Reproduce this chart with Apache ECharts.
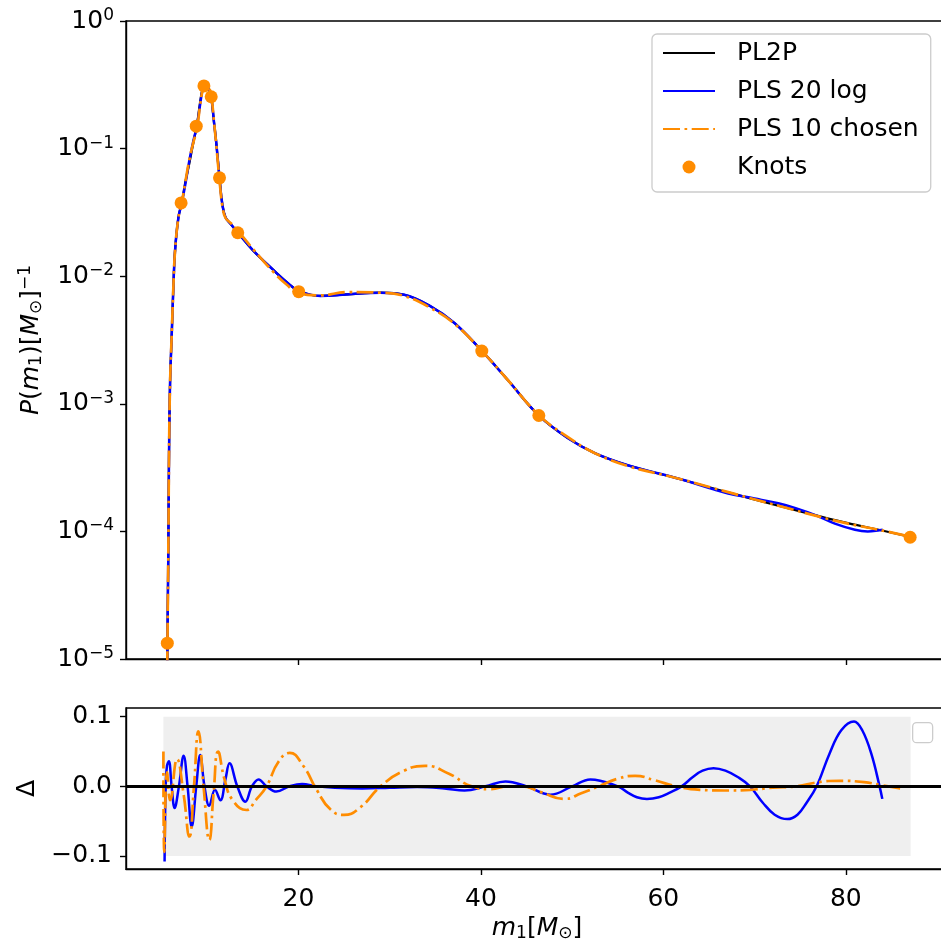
<!DOCTYPE html>
<html><head><meta charset="utf-8">
<script src="https://cdn.jsdelivr.net/npm/echarts@6/dist/echarts.min.js"></script>
<style>html,body{margin:0;padding:0;background:#fff}#c{width:941px;height:940px}</style>
</head><body><div id="c"></div>
<script>
const FONT = 'DejaVu Sans';

// ---- top panel: P(m1) ----
const pl2pMass = [5.55,5.63,5.68,5.74,5.82,5.93,6.12,6.30,6.48,6.85,7.21,7.58,8.05,8.50,8.87,9.20,9.45,9.70,9.95,10.20,10.44,10.75,11.00,11.35,11.65,12.00,12.60,13.35,15.00,17.30,18.70,20.03,22.40,25.30,29.00,31.60,34.50,37.10,40.10,42.90,46.35,49.50,52.50,56.10,61.60,67.10,72.60,78.10,81.00,83.60,87.00];
const pl2pProb = [3e-6,1.0e-5,2.6e-5,7.0e-5,4.3e-4,1.45e-3,3.6e-3,8.5e-3,0.016,0.029,0.0375,0.0535,0.077,0.113,0.153,0.225,0.285,0.318,0.31,0.28,0.25,0.16,0.11,0.059,0.037,0.029,0.0255,0.0220,0.0160,0.0111,0.0090,0.00767,0.0070,0.0072,0.00743,0.00715,0.0058,0.0043,0.0026,0.00155,8.1e-4,5.4e-4,4.1e-4,3.3e-4,2.6e-4,2.02e-4,1.59e-4,1.26e-4,1.13e-4,1.03e-4,9.1e-5];

const pls20Mass = [5.55,5.63,5.68,5.74,5.82,5.93,6.12,6.30,6.48,6.85,7.21,7.58,8.05,8.50,8.87,9.20,9.45,9.70,9.95,10.20,10.44,10.75,11.00,11.35,11.65,12.00,12.60,13.35,15.00,17.30,18.70,20.03,22.40,25.30,29.00,31.60,34.50,37.10,40.10,42.90,46.35,49.50,52.50,56.10,61.60,65.50,67.10,70.00,72.60,74.50,76.80,78.80,81.00,82.40,83.70,84.05];
const pls20Prob = [3e-6,1.0e-5,2.6e-5,7.0e-5,4.3e-4,1.45e-3,3.6e-3,8.5e-3,0.016,0.029,0.0375,0.0514,0.081,0.116,0.150,0.215,0.28,0.318,0.315,0.288,0.255,0.16,0.11,0.059,0.037,0.029,0.0255,0.0220,0.0160,0.0111,0.0090,0.00767,0.0070,0.0072,0.00743,0.00715,0.0058,0.0043,0.0026,0.00155,8.1e-4,5.4e-4,4.1e-4,3.3e-4,2.6e-4,2.14e-4,1.98e-4,1.81e-4,1.66e-4,1.52e-4,1.33e-4,1.15e-4,1.03e-4,1.0e-4,1.02e-4,1.03e-4];

const pls10Mass = [5.55,5.63,5.68,5.74,5.82,5.93,6.12,6.30,6.48,6.85,7.21,7.58,8.05,8.50,8.87,9.20,9.45,9.70,9.95,10.20,10.44,10.75,11.00,11.35,11.65,12.00,12.60,13.35,15.00,17.30,18.70,20.03,22.40,25.30,29.00,31.60,34.50,37.10,40.10,42.90,46.35,49.50,52.50,56.10,61.60,67.10,72.60,78.10,81.00,83.60,87.00];
const pls10Prob = [3e-6,1.0e-5,2.6e-5,7.0e-5,4.3e-4,1.45e-3,3.6e-3,8.5e-3,0.016,0.029,0.0375,0.0535,0.0825,0.113,0.142,0.212,0.277,0.32,0.322,0.30,0.265,0.162,0.106,0.0565,0.036,0.0287,0.026,0.0227,0.0164,0.0107,0.0086,0.00733,0.00707,0.0075,0.00743,0.0070,0.00563,0.00424,0.0026,0.00155,8.15e-4,5.5e-4,4.1e-4,3.25e-4,2.6e-4,2.03e-4,1.59e-4,1.25e-4,1.12e-4,1.03e-4,9.1e-5];

const knotMass = [5.63,7.14,8.80,9.64,10.44,11.35,13.35,20.03,40.10,46.35,87.05];
const knotProb = [1.33e-5,0.0375,0.150,0.31,0.255,0.059,0.0219,0.00756,0.00259,8.1e-4,9.0e-5];

// ---- bottom panel: Delta ----
const dBlueMass = [5.33,5.45,5.6,5.8,6.1,6.43,6.9,7.42,7.85,8.3,8.8,9.23,9.7,10.22,10.85,11.45,12.0,12.45,13.3,14.18,14.9,15.64,16.5,17.58,19.0,20.4,22.0,24.0,27.0,30.0,33.0,36.0,38.2,40.5,42.7,45.0,47.6,50.0,52.0,55.0,56.1,57.1,58.2,59.5,60.7,62.0,63.2,64.3,65.5,66.8,68.2,69.5,70.9,72.2,73.6,74.7,75.7,76.8,78.2,79.5,80.9,81.8,82.8,83.7,84.0];
const dBlueVal = [-0.108,0.0,0.03,0.036,0.0,-0.031,0.0,0.044,0.0,-0.058,0.0,0.045,0.0,-0.028,-0.005,-0.02,0.01,0.033,0.0,-0.022,0.0,0.010,0.0,-0.0075,0.0,0.0035,0.0,-0.002,-0.003,-0.002,-0.001,-0.003,-0.006,0.0,0.007,0.0,-0.012,0.0,0.010,0.0,-0.009,-0.0156,-0.018,-0.0156,-0.009,0.0,0.013,0.0225,0.026,0.0225,0.013,0.0,-0.0235,-0.0407,-0.047,-0.0407,-0.0235,0.0,0.0465,0.0805,0.093,0.0805,0.0465,0.0,-0.018];

const dOrangeMass = [5.2,5.3,5.6,5.95,6.7,7.4,8.05,8.55,9.04,9.6,10.24,10.7,11.2,11.9,12.8,14.3,15.3,16.5,17.8,19.05,20.5,22.0,23.5,25.0,26.8,29.0,31.5,33.9,36.5,39.0,41.0,43.0,44.5,46.5,49.2,51.0,52.9,55.0,56.9,59.0,61.4,64.0,66.7,69.5,72.0,74.5,77.0,79.3,82.0,83.8,85.5,86.4];
const dOrangeVal = [0.05,-0.094,0.02,-0.02,0.039,-0.01,-0.072,0.0,0.079,0.0,-0.077,-0.01,0.05,0.01,-0.02,-0.034,-0.02,0.0,0.035,0.048,0.03,-0.005,-0.033,-0.041,-0.03,0.0,0.022,0.0295,0.018,0.0,-0.004,0.0,0.0,-0.008,-0.018,-0.01,0.0,0.011,0.015,0.009,0.0,-0.005,-0.006,-0.005,-0.002,0.0,0.006,0.008,0.006,0.002,-0.002,-0.004];

const bandMass = [5.2, 87.1];
const bandDelta = [-0.1, 0.1];
const zeroLevel = 0;

// ---- ticks ----
const xTicks = [20, 40, 60, 80];
const logDecades = [1e-5, 1e-4, 1e-3, 1e-2, 1e-1, 1];
const deltaTicks = [-0.1, 0.0, 0.1];
const minorMultipliers = [2,3,4,5,6,7,8,9];
const minorLogTicks = [];
logDecades.slice(0, -1).forEach(d => minorMultipliers.forEach(k => minorLogTicks.push(+(k * d).toPrecision(3))));

const zip = (a, b) => a.map((v, i) => [v, b[i]]);

const BLACK = '#000000', BLUE = '#0000ff', ORANGE = '#ff8c00';
const axisLine = { color: '#000', width: 1.4 };
const dashDot = [17, 4.5, 2.7, 4.5];
const noSym = { color: 'rgba(0,0,0,0)', borderColor: 'rgba(0,0,0,0)', borderWidth: 0, opacity: 0 };

const richName = {
  i: { fontSize: 25, fontStyle: 'italic', fontFamily: FONT, color: '#000' },
  n: { fontSize: 25, fontFamily: FONT, color: '#000' },
  sb: { fontSize: 17, fontFamily: FONT, color: '#000', padding: [10, 0, 0, 0] },
  sp: { fontSize: 17, fontFamily: FONT, color: '#000', padding: [0, 0, 12, 0] }
};

const chart = echarts.init(document.getElementById('c'), null, { renderer: 'canvas' });
const option = {
  animation: false,
  backgroundColor: '#ffffff',
  textStyle: { fontFamily: FONT },
  grid: [
    { left: 126, top: 21, width: 822, height: 638, show: true, borderColor: '#000', borderWidth: 1.4, outerBoundsMode: 'none', containLabel: false },
    { left: 126, top: 708, width: 822, height: 161, show: true, borderColor: '#000', borderWidth: 1.4, outerBoundsMode: 'none', containLabel: false }
  ],
  legend: {
    left: 652, top: 34, orient: 'vertical',
    data: [
      { name: 'PL2P', itemStyle: noSym },
      { name: 'PLS 20 log', itemStyle: noSym },
      { name: 'PLS 10 chosen', itemStyle: noSym },
      { name: 'Knots' }
    ],
    itemWidth: 52, itemHeight: 13, itemGap: 12,
    padding: [6, 12, 12, 10],
    backgroundColor: 'rgba(255,255,255,0.8)', borderColor: '#cccccc', borderWidth: 1.3, borderRadius: 5,
    textStyle: { fontSize: 25, color: '#000', fontFamily: FONT, lineHeight: 26, padding: [0, 0, 0, 17] },
    selectedMode: false
  },
  xAxis: [
    {
      gridIndex: 0, type: 'value', min: 1.1, max: 91.2,
      splitLine: { show: false },
      axisLine: { show: true, onZero: false, lineStyle: axisLine },
      axisTick: { show: true, inside: false, length: 6, lineStyle: axisLine, customValues: xTicks },
      axisLabel: { show: false }
    },
    {
      gridIndex: 1, type: 'value', min: 1.1, max: 91.2,
      splitLine: { show: false },
      axisLine: { show: true, onZero: false, lineStyle: axisLine },
      axisTick: { show: true, inside: false, length: 6, lineStyle: axisLine, customValues: xTicks },
      axisLabel: { show: true, customValues: xTicks, fontSize: 25, color: '#000', fontFamily: FONT, margin: 18 },
      name: '{i|m}{sb|1}{n|[}{i|M}{sb|⊙}{n|]}',
      nameLocation: 'middle', nameGap: 46,
      nameTextStyle: { fontSize: 25, color: '#000', rich: richName }
    }
  ],
  yAxis: [
    {
      gridIndex: 0, type: 'log', logBase: 10, min: 1e-5, max: 1,
      splitLine: { show: false },
      axisLine: { show: true, onZero: false, lineStyle: axisLine },
      axisTick: { show: true, inside: false, length: 6, lineStyle: axisLine },
      axisLabel: {
        show: true, margin: 12, color: '#000',
        formatter: v => { const e = Math.round(Math.log10(v)); return '{b|10}{s|' + (e < 0 ? '\u2212' + (-e) : e) + '}'; },
        rich: {
          b: { fontSize: 25, fontFamily: FONT, color: '#000' },
          s: { fontSize: 17, fontFamily: FONT, color: '#000', padding: [0, 0, 11, 0] }
        }
      },
      name: '{i|P}{n|(}{i|m}{sb|1}{n|)[}{i|M}{sb|⊙}{n|]}{sp|\u22121}',
      nameLocation: 'middle', nameRotate: 90, nameGap: 80,
      nameTextStyle: { fontSize: 25, color: '#000', rich: richName }
    },
    {
      gridIndex: 0, type: 'log', logBase: 10, min: 1e-5, max: 1,
      splitLine: { show: false },
      axisLine: { show: false },
      axisTick: { show: true, inside: false, length: 3.5, lineStyle: { color: '#000', width: 1.1 }, customValues: minorLogTicks },
      axisLabel: { show: false }
    },
    {
      gridIndex: 1, type: 'value', min: -0.1187, max: 0.1125,
      splitLine: { show: false },
      axisLine: { show: true, onZero: false, lineStyle: axisLine },
      axisTick: { show: true, inside: false, length: 6, lineStyle: axisLine, customValues: deltaTicks },
      axisLabel: {
        show: true, customValues: deltaTicks, fontSize: 25, color: '#000', fontFamily: FONT, margin: 14,
        formatter: v => (v < 0 ? '\u2212' : '') + Math.abs(v).toFixed(1)
      },
      name: 'Δ', nameLocation: 'middle', nameRotate: 90, nameGap: 80,
      nameTextStyle: { fontSize: 25, color: '#000', fontFamily: FONT }
    }
  ],
  series: [
    {
      name: 'PL2P', type: 'line', xAxisIndex: 0, yAxisIndex: 0, z: 2,
      data: zip(pl2pMass, pl2pProb), symbol: 'none', smooth: 0.4,
      lineStyle: { color: BLACK, width: 2.2 }, itemStyle: { color: BLACK }
    },
    {
      name: 'PLS 20 log', type: 'line', xAxisIndex: 0, yAxisIndex: 0, z: 3,
      data: zip(pls20Mass, pls20Prob), symbol: 'none', smooth: 0.4,
      lineStyle: { color: BLUE, width: 2.5 }, itemStyle: { color: BLUE }
    },
    {
      name: 'PLS 10 chosen', type: 'line', xAxisIndex: 0, yAxisIndex: 0, z: 4,
      data: zip(pls10Mass, pls10Prob), symbol: 'none', smooth: 0.4,
      lineStyle: { color: ORANGE, width: 2.7, type: dashDot }, itemStyle: { color: ORANGE }
    },
    {
      name: 'Knots', type: 'scatter', xAxisIndex: 0, yAxisIndex: 0, z: 5,
      data: zip(knotMass, knotProb), symbol: 'circle', symbolSize: 13,
      itemStyle: { color: ORANGE, opacity: 1 }
    },
    {
      name: 'dPLS20', type: 'line', xAxisIndex: 1, yAxisIndex: 2, z: 3,
      data: zip(dBlueMass, dBlueVal), symbol: 'none', smooth: 0.4,
      lineStyle: { color: BLUE, width: 2.5 },
      markArea: {
        silent: true, itemStyle: { color: '#efefef' },
        data: [[{ xAxis: bandMass[0], yAxis: bandDelta[0] }, { xAxis: bandMass[1], yAxis: bandDelta[1] }]]
      }
    },
    {
      name: 'dPLS10', type: 'line', xAxisIndex: 1, yAxisIndex: 2, z: 4,
      data: zip(dOrangeMass, dOrangeVal), symbol: 'none', smooth: 0.5,
      lineStyle: { color: ORANGE, width: 2.7, type: dashDot },
      markLine: {
        silent: true, symbol: ['none', 'none'], label: { show: false },
        lineStyle: { color: '#000', width: 3, type: 'solid' },
        data: [{ yAxis: zeroLevel }]
      }
    }
  ],
  graphic: [
    { type: 'rect', left: 912, top: 722, shape: { width: 20, height: 20, r: 4 },
      style: { fill: 'rgba(255,255,255,0.8)', stroke: '#cccccc', lineWidth: 1.3 }, z: 10 }
  ]
};
chart.setOption(option);
</script>
</body></html>
